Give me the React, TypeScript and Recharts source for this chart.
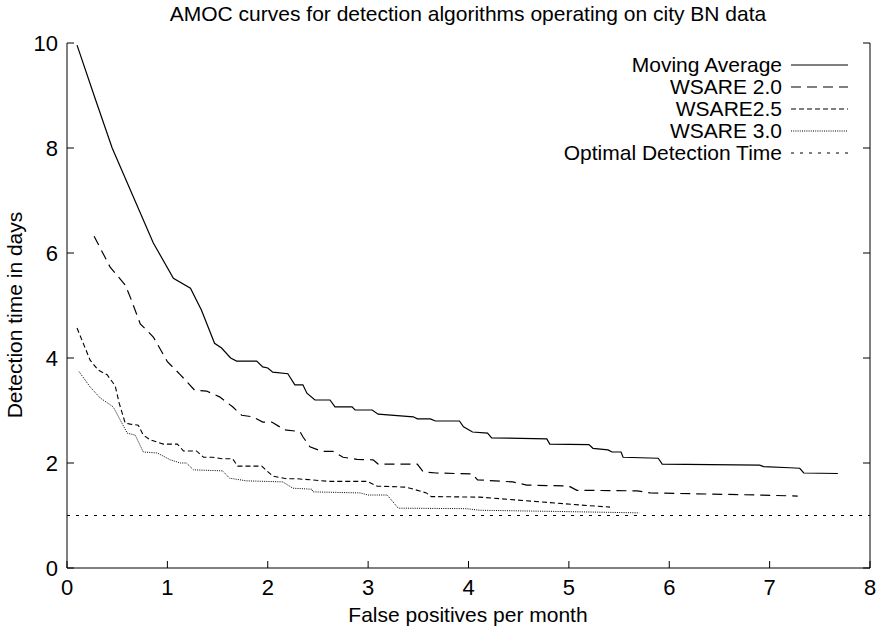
import { LineChart, Line, XAxis, YAxis, Legend } from 'recharts'

// points as [false positives per month, detection time in days]
const movingAverage = [
  [0.1, 9.96], [0.27, 9.0], [0.45, 8.0], [0.86, 6.19], [1.06, 5.52], [1.23, 5.33], [1.34, 4.91],
  [1.47, 4.28], [1.54, 4.19], [1.63, 4.0], [1.69, 3.94], [1.89, 3.94], [1.95, 3.83], [2.0, 3.81],
  [2.05, 3.73], [2.2, 3.7], [2.27, 3.49], [2.35, 3.49], [2.39, 3.33], [2.47, 3.2], [2.62, 3.2],
  [2.67, 3.07], [2.84, 3.07], [2.87, 3.01], [3.04, 3.01], [3.1, 2.93], [3.45, 2.88], [3.49, 2.84],
  [3.62, 2.84], [3.67, 2.8], [3.91, 2.8], [3.95, 2.69], [4.04, 2.59], [4.19, 2.57], [4.23, 2.48],
  [4.78, 2.46], [4.81, 2.36], [5.2, 2.35], [5.24, 2.28], [5.39, 2.25], [5.43, 2.21], [5.52, 2.21],
  [5.54, 2.11], [5.89, 2.09], [5.93, 1.98], [6.9, 1.96], [6.94, 1.93], [7.2, 1.91], [7.3, 1.9],
  [7.34, 1.81], [7.68, 1.8],
]

const wsare20 = [
  [0.27, 6.32], [0.43, 5.73], [0.58, 5.39], [0.63, 5.16], [0.73, 4.65], [0.86, 4.4], [1.0, 3.93],
  [1.13, 3.68], [1.27, 3.39], [1.39, 3.37], [1.52, 3.26], [1.65, 3.07], [1.74, 2.91], [1.85, 2.88],
  [1.95, 2.78], [2.04, 2.78], [2.17, 2.63], [2.32, 2.6], [2.35, 2.5], [2.42, 2.31], [2.54, 2.22],
  [2.65, 2.22], [2.75, 2.11], [2.89, 2.07], [3.05, 2.06], [3.1, 1.98], [3.49, 1.98], [3.55, 1.83],
  [3.68, 1.81], [4.04, 1.79], [4.09, 1.68], [4.44, 1.64], [4.58, 1.58], [5.0, 1.56], [5.08, 1.48],
  [5.68, 1.47], [5.81, 1.43], [6.9, 1.39], [7.28, 1.37],
]

const wsare25 = [
  [0.1, 4.57], [0.23, 3.96], [0.31, 3.77], [0.4, 3.68], [0.48, 3.47], [0.52, 3.14], [0.58, 2.76],
  [0.63, 2.74], [0.71, 2.72], [0.76, 2.53], [0.83, 2.44], [0.96, 2.36], [1.1, 2.36], [1.16, 2.23],
  [1.29, 2.23], [1.36, 2.11], [1.45, 2.11], [1.55, 2.08], [1.65, 2.08], [1.7, 1.94], [1.94, 1.94],
  [2.05, 1.75], [2.19, 1.7], [2.29, 1.7], [2.62, 1.65], [2.99, 1.65], [3.09, 1.56], [3.38, 1.54],
  [3.58, 1.43], [3.63, 1.36], [4.11, 1.35], [4.71, 1.26], [5.11, 1.2], [5.41, 1.16],
]

const wsare30 = [
  [0.12, 3.74], [0.23, 3.45], [0.33, 3.24], [0.46, 3.07], [0.53, 2.82], [0.6, 2.57], [0.68, 2.53],
  [0.76, 2.21], [0.9, 2.19], [1.03, 2.06], [1.13, 2.0], [1.19, 2.0], [1.26, 1.87], [1.55, 1.85],
  [1.62, 1.71], [1.79, 1.66], [2.15, 1.64], [2.25, 1.52], [2.44, 1.5], [2.45, 1.45], [2.92, 1.43],
  [3.0, 1.39], [3.19, 1.39], [3.3, 1.14], [3.98, 1.13], [4.11, 1.1], [5.11, 1.07], [5.7, 1.05],
]

const optimalTime = [[0, 1], [8, 1]]

const xTicks = [0, 1, 2, 3, 4, 5, 6, 7, 8]
const yTicks = [0, 2, 4, 6, 8, 10]

const FONT = '"Liberation Sans", Arial, Helvetica, sans-serif'
const TICK = 7

const toPoints = (pts: number[][]) => pts.map(([x, y]) => ({ x, y }))

const SERIES = [
  { name: 'Moving Average', data: movingAverage, dash: undefined, width: 1.2, frame: false },
  { name: 'WSARE 2.0', data: wsare20, dash: '10 6', width: 1.2, frame: false },
  { name: 'WSARE2.5', data: wsare25, dash: '5 3', width: 1.1, frame: false },
  { name: 'WSARE 3.0', data: wsare30, dash: '1 1.2', width: 1, frame: false },
  // drawn on the top/right axes (same domains) so those frame axes get rendered
  { name: 'Optimal Detection Time', data: optimalTime, dash: '3 6', width: 1, frame: true },
]

const LegendBox = () => (
  <div style={{ fontFamily: FONT, fontSize: 21, color: '#000' }}>
    {SERIES.map((s) => (
      <div
        key={s.name}
        style={{ display: 'flex', justifyContent: 'flex-end', alignItems: 'center', height: 22 }}
      >
        <span style={{ whiteSpace: 'nowrap' }}>{s.name}</span>
        <svg width={57} height={10} style={{ marginLeft: 9 }}>
          <line x1={0} y1={5} x2={57} y2={5} stroke="#000" strokeWidth={s.width} strokeDasharray={s.dash} />
        </svg>
      </div>
    ))}
  </div>
)

// gnuplot style: tick marks point into the plot
const BottomTick = ({ x, y, payload }: any) => (
  <g>
    <line x1={x} y1={y} x2={x} y2={y - TICK} stroke="#000" />
    <text x={x} y={y + 27} textAnchor="middle" fontSize={22} fill="#000">{payload.value}</text>
  </g>
)
const LeftTick = ({ x, y, payload }: any) => (
  <g>
    <line x1={x} y1={y} x2={x + TICK} y2={y} stroke="#000" />
    <text x={x - 9} y={y} dy="0.36em" textAnchor="end" fontSize={22} fill="#000">{payload.value}</text>
  </g>
)
const TopTick = ({ x, y }: any) => <line x1={x} y1={y} x2={x} y2={y + TICK} stroke="#000" />
const RightTick = ({ x, y }: any) => <line x1={x} y1={y} x2={x - TICK} y2={y} stroke="#000" />

const textStyle = {
  position: 'absolute' as const,
  transform: 'translate(-50%, -50%)',
  fontFamily: FONT,
  fontSize: 21,
  whiteSpace: 'nowrap' as const,
  color: '#000',
}

export default function App() {
  return (
    <div style={{ position: 'absolute', left: 0, top: 0, width: 878, height: 630, background: '#fff' }}>
      <div style={{ ...textStyle, left: 468, top: 14 }}>
        AMOC curves for detection algorithms operating on city BN data
      </div>
      <div style={{ ...textStyle, left: 15, top: 315, transform: 'translate(-50%, -50%) rotate(-90deg)' }}>
        Detection time in days
      </div>
      <div style={{ ...textStyle, left: 468, top: 615 }}>False positives per month</div>
      <LineChart
        width={878}
        height={630}
        margin={{ top: 43, right: 0, bottom: 0, left: 0 }}
        style={{ fontFamily: FONT }}
      >
        <XAxis
          type="number"
          dataKey="x"
          domain={[0, 8]}
          ticks={xTicks}
          height={62}
          tickSize={0}
          tickMargin={0}
          tickLine={false}
          stroke="#000"
          tick={<BottomTick />}
        />
        <XAxis
          xAxisId="top"
          orientation="top"
          type="number"
          dataKey="x"
          domain={[0, 8]}
          ticks={xTicks}
          height={0}
          tickSize={0}
          tickMargin={0}
          tickLine={false}
          stroke="#000"
          tick={<TopTick />}
        />
        <YAxis
          type="number"
          domain={[0, 10]}
          ticks={yTicks}
          width={67}
          tickSize={0}
          tickMargin={0}
          tickLine={false}
          stroke="#000"
          tick={<LeftTick />}
        />
        <YAxis
          yAxisId="right"
          orientation="right"
          type="number"
          domain={[0, 10]}
          ticks={yTicks}
          width={8}
          tickSize={0}
          tickMargin={0}
          tickLine={false}
          stroke="#000"
          tick={<RightTick />}
        />
        <Legend
          layout="horizontal"
          verticalAlign="middle"
          align="center"
          wrapperStyle={{ top: 54, left: 548, width: 300 }}
          content={<LegendBox />}
        />
        {SERIES.map((s) => (
          <Line
            key={s.name}
            name={s.name}
            data={toPoints(s.data)}
            dataKey="y"
            xAxisId={s.frame ? 'top' : 0}
            yAxisId={s.frame ? 'right' : 0}
            type="linear"
            stroke="#000"
            strokeWidth={s.width}
            strokeDasharray={s.dash}
            dot={false}
            activeDot={false}
            isAnimationActive={false}
          />
        ))}
      </LineChart>
    </div>
  )
}
